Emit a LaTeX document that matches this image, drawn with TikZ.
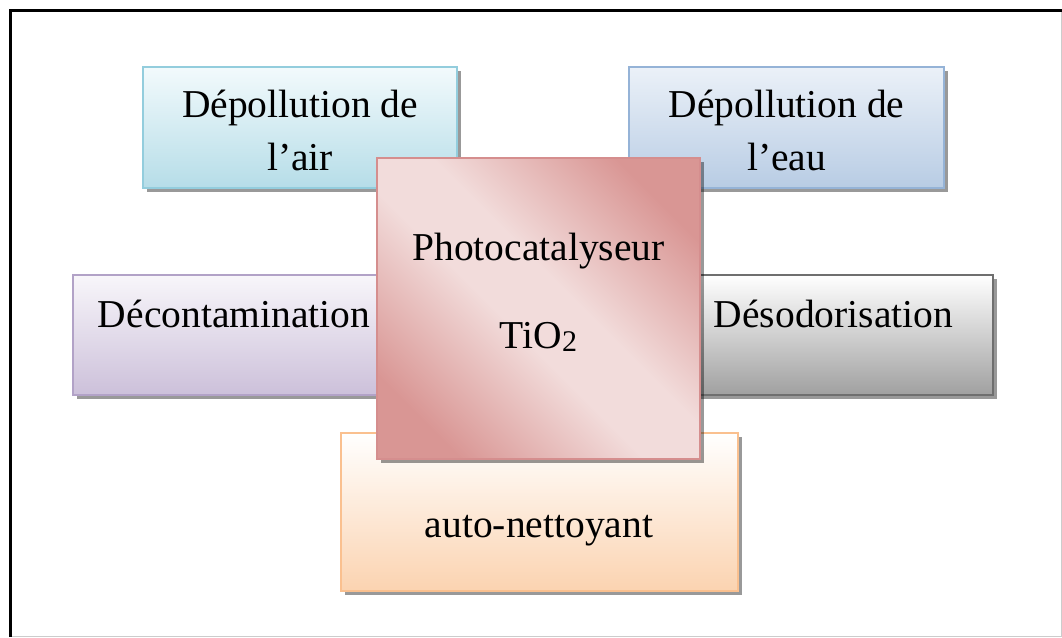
\documentclass[tikz,border=0pt]{standalone}
\usepackage{fontspec}
\setmainfont{Liberation Serif}
\usetikzlibrary{shadows}
\definecolor{airB}{HTML}{93CDDD}\definecolor{airD}{HTML}{B6DDE8}\definecolor{airL}{HTML}{F2FAFC}
\definecolor{eauB}{HTML}{95B3D7}\definecolor{eauD}{HTML}{B8CCE4}\definecolor{eauL}{HTML}{EBF1F8}
\definecolor{decB}{HTML}{B2A2C7}\definecolor{decD}{HTML}{CCC0DA}\definecolor{decL}{HTML}{F8F6FA}
\definecolor{desB}{HTML}{6F6F6F}\definecolor{desD}{HTML}{A0A0A0}\definecolor{desL}{HTML}{FFFFFF}
\definecolor{autB}{HTML}{FAC08F}\definecolor{autD}{HTML}{FBD3B0}\definecolor{autL}{HTML}{FFFFFF}
\definecolor{cenB}{HTML}{D58E8E}\definecolor{cenD}{HTML}{D99694}\definecolor{cenL}{HTML}{F2DCDB}
\pgfdeclarehorizontalshading{censhade}{100bp}{color(0bp)=(cenD); color(24bp)=(cenD); color(45bp)=(cenL); color(55bp)=(cenL); color(76bp)=(cenD); color(100bp)=(cenD)}
\tikzset{
  box/.style={rectangle, line width=1.5pt, inner sep=0pt,
    drop shadow={shadow xshift=4pt, shadow yshift=-4pt, fill=black, opacity=0.4}},
  vbox/.style n args={3}{box, draw=#1, top color=#3, bottom color=#2},
  txt/.style={anchor=base, inner sep=0pt, font=\fontsize{39.5}{54}\selectfont}
}
\begin{document}
\begin{tikzpicture}[x=1pt,y=-1pt]
\useasboundingbox (0,0) rectangle (1062,637);
% frame
\draw[line width=0.8pt, black!20] (1061,10) -- (1061,636) -- (10,636);
\draw[line width=3pt, black] (10,637) -- (10,10) -- (1062,10);
% boxes
\node[vbox={airB}{airD}{airL}, minimum width=314pt, minimum height=121pt] (air) at (300,127.5) {};
\node[vbox={eauB}{eauD}{eauL}, minimum width=315pt, minimum height=121pt] (eau) at (786.5,127.5) {};
\node[vbox={decB}{decD}{decL}, minimum width=322pt, minimum height=120pt] (dec) at (234,335) {};
\node[vbox={desB}{desD}{desL}, minimum width=320pt, minimum height=120pt] (des) at (833,335) {};
\node[vbox={autB}{autD}{autL}, minimum width=397pt, minimum height=158pt] (aut) at (539.5,512) {};
\node[txt] (airt1) at (300,117) {Dépollution de};
\node[txt] (airt2) at (300,170) {l’air};
\node[txt] (eaut1) at (786.5,117) {Dépollution de};
\node[txt] (eaut2) at (786.5,170) {l’eau};
\node[txt] (dect) at (234,327) {Décontamination};
\node[txt] (dest) at (833.5,327) {Désodorisation};
\node[txt] (autt) at (539,537) {auto-nettoyant};
% centre
\node[box, draw=cenB, shading=censhade, shading angle=45,
      minimum width=323pt, minimum height=301pt] (cen) at (538.5,308.5) {};
\node[txt] (cent1) at (538.5,260) {Photocatalyseur};
\node[txt] (cent2) at (538.5,348) {TiO\raisebox{-3pt}{\fontsize{30}{30}\selectfont 2}};
\end{tikzpicture}
\end{document}
